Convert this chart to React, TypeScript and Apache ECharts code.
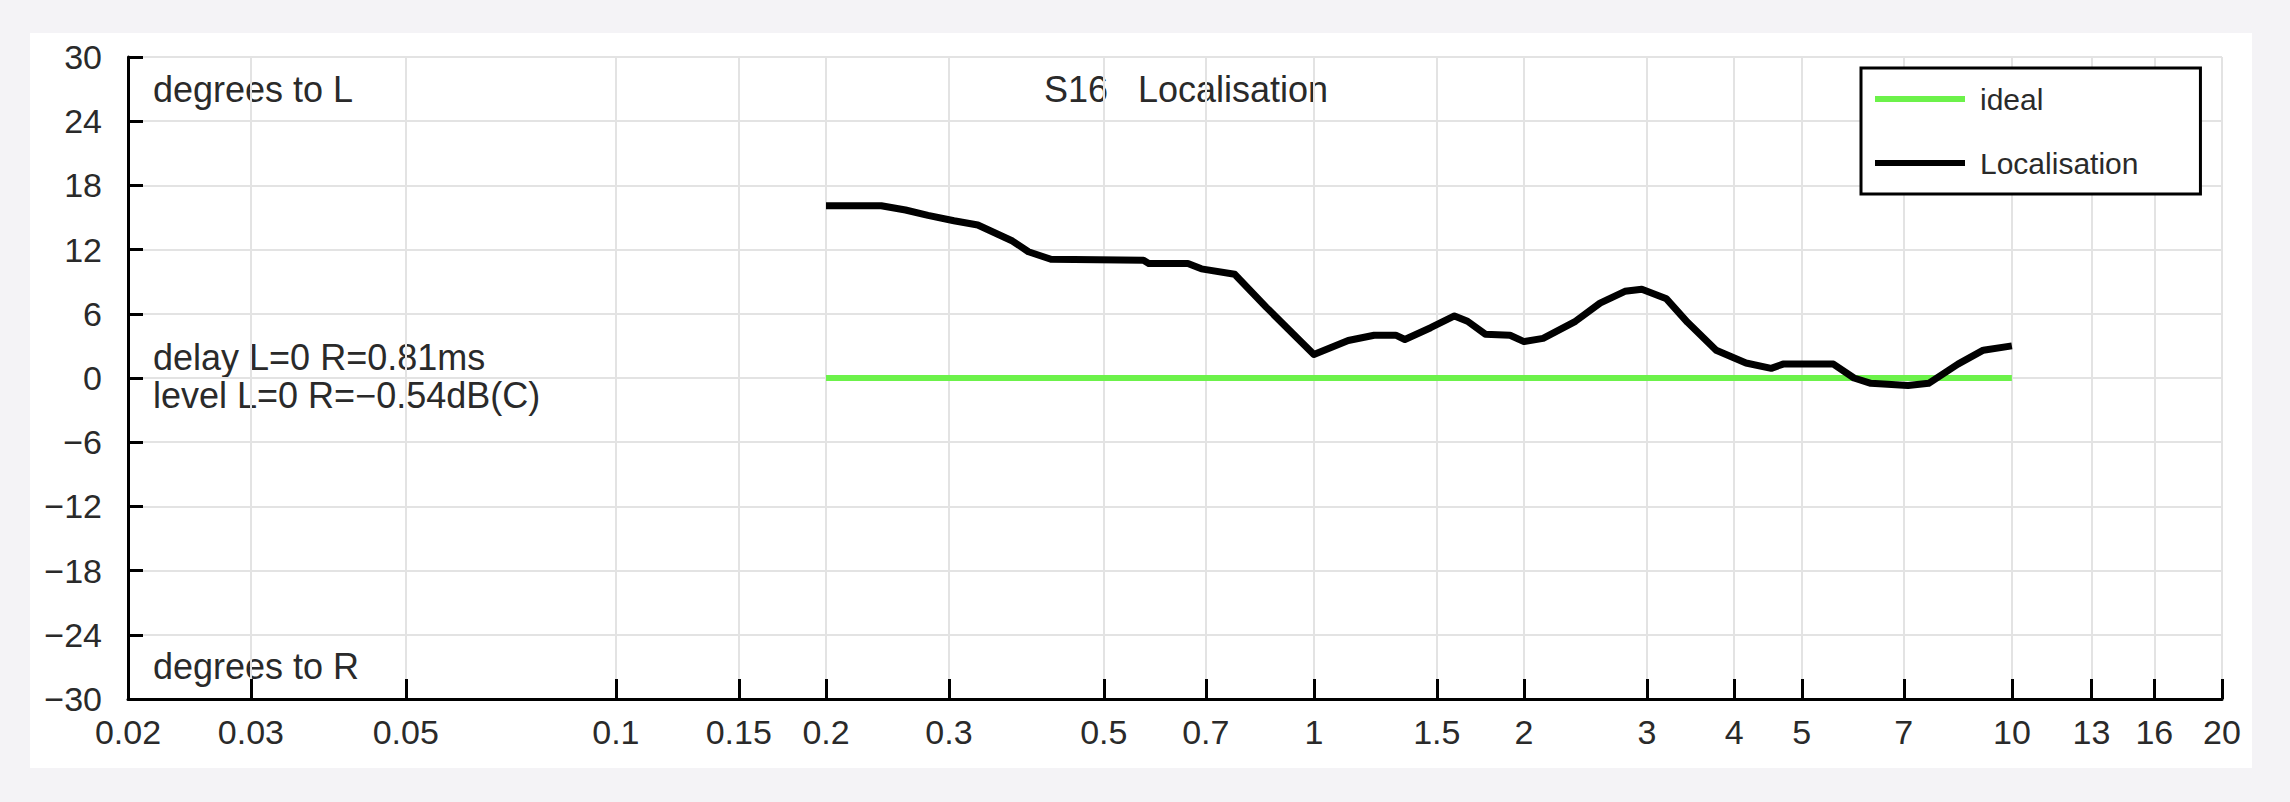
import React, { useEffect, useRef } from "react";
import * as echarts from "echarts";

// ---- data ----
const xTickValues = [0.02, 0.03, 0.05, 0.1, 0.15, 0.2, 0.3, 0.5, 0.7, 1, 1.5, 2, 3, 4, 5, 7, 10, 13, 16, 20];
const xTickLabels = ["0.02", "0.03", "0.05", "0.1", "0.15", "0.2", "0.3", "0.5", "0.7", "1", "1.5", "2", "3", "4", "5", "7", "10", "13", "16", "20"];
const yMin = -30;
const yMax = 30;
const yStep = 6;

const idealFreq = [0.2, 10];
const idealDeg = [0, 0];

const locFreq = [
  0.2, 0.24, 0.26, 0.28, 0.305, 0.33, 0.37, 0.39, 0.42, 0.57, 0.58, 0.66, 0.69, 0.77, 0.855,
  1.0, 1.12, 1.22, 1.31, 1.35, 1.47, 1.59, 1.66, 1.76, 1.91, 2.0, 2.13, 2.37, 2.57, 2.79, 2.95,
  3.2, 3.43, 3.77, 4.16, 4.52, 4.7, 5.55, 5.94, 6.28, 7.1, 7.6, 8.37, 9.1, 10,
];
const locDeg = [
  16.1, 16.1, 15.7, 15.2, 14.7, 14.3, 12.8, 11.8, 11.1, 11.0, 10.7, 10.7, 10.2, 9.7, 6.6,
  2.2, 3.5, 4.0, 4.0, 3.6, 4.7, 5.8, 5.3, 4.1, 4.0, 3.4, 3.7, 5.3, 7.0, 8.1, 8.3,
  7.4, 5.2, 2.6, 1.4, 0.9, 1.3, 1.3, 0.0, -0.5, -0.7, -0.5, 1.3, 2.6, 3.0,
];

const titleText = "S16   Localisation";
const noteTopText = "degrees to L";
const noteBottomText = "degrees to R";
const delayText = "delay L=0 R=0.81ms";
const levelText = "level L=0 R=\u22120.54dB(C)";

const FONT = "'Liberation Sans', Arial, Helvetica, sans-serif";
const TEXT = "#2a2a2a";

export default function App() {
  const ref = useRef<HTMLDivElement>(null);

  useEffect(() => {
    if (!ref.current) return;
    const chart = echarts.init(ref.current, undefined, { renderer: "svg" });
    const lg = (v: number) => Math.log10(v);
    const tickPos = xTickValues.map(lg);
    const labelFor = (v: number) => {
      let best = 0;
      let d = Infinity;
      tickPos.forEach((p, i) => {
        const dd = Math.abs(p - v);
        if (dd < d) {
          d = dd;
          best = i;
        }
      });
      return xTickLabels[best];
    };

    chart.setOption({
      animation: false,
      backgroundColor: "transparent",
      textStyle: { fontFamily: FONT, color: TEXT },
      grid: { left: 128, right: 68, top: 57, bottom: 103, containLabel: false },
      xAxis: {
        type: "value",
        min: lg(0.02),
        max: lg(20),
        axisLine: { show: true, onZero: false, lineStyle: { color: "#000", width: 3 } },
        axisTick: { show: true, inside: true, length: 20, customValues: tickPos, lineStyle: { color: "#000", width: 3 } },
        axisLabel: {
          show: true,
          customValues: tickPos,
          formatter: (v: number) => labelFor(v),
          fontSize: 34,
          color: TEXT,
          fontFamily: FONT,
          margin: 16,
        },
        splitLine: { show: true, lineStyle: { color: "#e3e3e3", width: 2 } },
      },
      yAxis: {
        type: "value",
        min: yMin,
        max: yMax,
        interval: yStep,
        axisLine: { show: true, onZero: false, lineStyle: { color: "#000", width: 3 } },
        axisTick: { show: true, inside: true, length: 15, lineStyle: { color: "#000", width: 3 } },
        axisLabel: {
          fontSize: 34,
          color: TEXT,
          fontFamily: FONT,
          margin: 26,
          formatter: (v: number) => (v < 0 ? "\u2212" + Math.abs(v) : String(v)),
        },
        splitLine: { show: true, lineStyle: { color: "#e3e3e3", width: 2 } },
      },
      legend: {
        data: ["ideal", "Localisation"],
        orient: "vertical",
        left: 1861,
        top: 68,
        icon: "rect",
        itemWidth: 90,
        itemHeight: 6,
        itemGap: 34,
        padding: [16, 62, 16, 14],
        borderColor: "#000",
        borderWidth: 3,
        backgroundColor: "#fff",
        textStyle: { fontSize: 30, color: TEXT, fontFamily: FONT, lineHeight: 30, padding: [0, 0, 0, 10] },
      },
      graphic: [
        { type: "text", x: 1186, y: 89, style: { text: titleText, fontSize: 36, fill: TEXT, fontFamily: FONT, align: "center", verticalAlign: "middle" } },
        { type: "text", x: 153, y: 89, style: { text: noteTopText, fontSize: 36, fill: TEXT, fontFamily: FONT, align: "left", verticalAlign: "middle" } },
        { type: "text", x: 153, y: 357, style: { text: delayText, fontSize: 36, fill: TEXT, fontFamily: FONT, align: "left", verticalAlign: "middle" } },
        { type: "text", x: 153, y: 395, style: { text: levelText, fontSize: 36, fill: TEXT, fontFamily: FONT, align: "left", verticalAlign: "middle" } },
        { type: "text", x: 153, y: 666, style: { text: noteBottomText, fontSize: 36, fill: TEXT, fontFamily: FONT, align: "left", verticalAlign: "middle" } },
      ],
      series: [
        {
          name: "ideal",
          type: "line",
          data: idealFreq.map((f, i) => [lg(f), idealDeg[i]]),
          showSymbol: false,
          symbol: "none",
          lineStyle: { color: "#6cf24a", width: 6 },
          itemStyle: { color: "#6cf24a" },
          z: 2,
        },
        {
          name: "Localisation",
          type: "line",
          data: locFreq.map((f, i) => [lg(f), locDeg[i]]),
          showSymbol: false,
          symbol: "none",
          lineStyle: { color: "#000", width: 7, join: "round" },
          itemStyle: { color: "#000" },
          z: 3,
        },
      ],
    });
    return () => chart.dispose();
  }, []);

  return (
    <div style={{ position: "fixed", left: 0, top: 0, width: 2290, height: 802, background: "#f4f3f6" }}>
      <div style={{ position: "absolute", left: 30, top: 33, width: 2222, height: 735, background: "#fff" }} />
      <div ref={ref} style={{ position: "absolute", left: 0, top: 0, width: 2290, height: 802 }} />
    </div>
  );
}
